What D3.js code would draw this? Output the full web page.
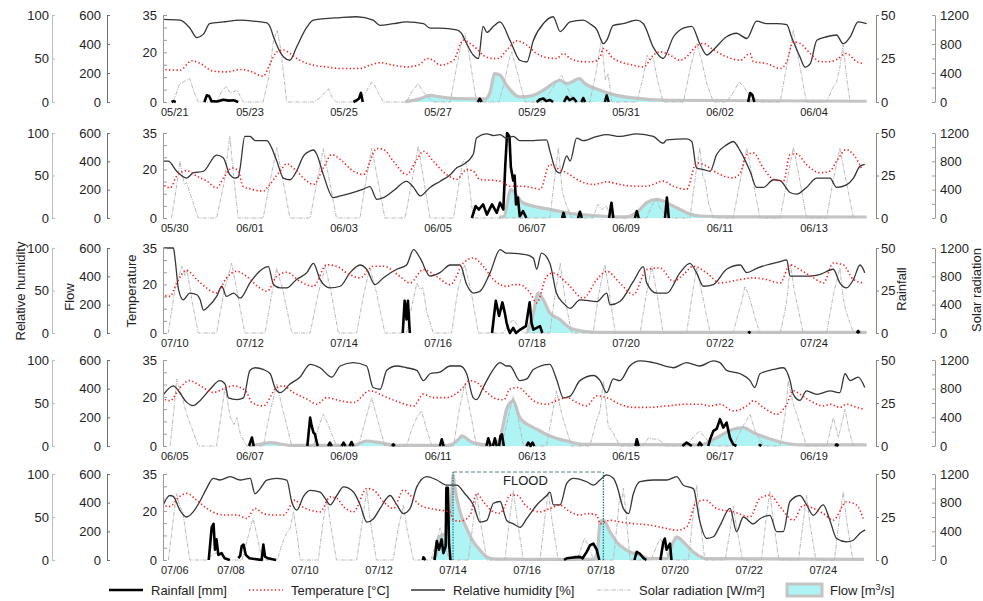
<!DOCTYPE html>
<html><head><meta charset="utf-8">
<script src="https://cdn.jsdelivr.net/npm/d3@7"></script>
<style>body{margin:0;background:#fff;} svg{display:block;}</style>
</head><body><svg id="chart" width="983" height="601"></svg>
<script>
// ---------- DATA (t = days since first date label of each panel) ----------
const dates1=["05/21","05/23","05/25","05/27","05/29","05/31","06/02","06/04"];
const dates2=["05/30","06/01","06/03","06/05","06/07","06/09","06/11","06/13"];
const dates3=["07/10","07/12","07/14","07/16","07/18","07/20","07/22","07/24"];
const dates4=["06/05","06/07","06/09","06/11","06/13","06/15","06/17","06/19"];
const dates5=["07/06","07/08","07/10","07/12","07/14","07/16","07/18","07/20","07/22","07/24"];

const hum1=[[0.16,95],[0.51,94],[0.72,85],[0.87,74],[1.01,78],[1.14,90],[1.43,92],[1.79,94],[2.07,93],[2.36,91],[2.43,86],[2.50,75],[2.71,52],[2.85,48],[2.99,63],[3.21,86],[3.35,94],[3.92,97],[4.27,98],[4.62,94],[4.77,88],[5.05,90],[5.33,92],[5.69,90],[5.83,85],[6.04,85],[6.40,83],[6.50,79],[6.61,67],[6.75,54],[6.86,50],[6.96,87],[7.04,80],[7.18,87],[7.32,92],[7.53,71],[7.74,48],[7.89,46],[8.03,71],[8.24,90],[8.45,98],[8.60,81],[8.81,92],[9.09,94],[9.23,90],[9.38,83],[9.52,67],[9.59,71],[9.73,88],[9.94,90],[10.23,94],[10.37,90],[10.58,63],[10.79,50],[11.01,75],[11.22,85],[11.40,87],[11.57,67],[11.72,54],[11.86,60],[12.14,75],[12.35,79],[12.57,73],[12.78,93],[12.99,90],[13.21,90],[13.42,89],[13.52,75],[13.70,52],[13.81,40],[13.92,44],[14.06,71],[14.27,75],[14.48,77],[14.62,67],[14.77,75],[14.94,92],[15.12,90]];
const temp1=[[0.12,13.1],[0.51,12.8],[0.76,16.6],[0.94,15.5],[1.22,12.4],[1.50,12.1],[1.79,13.1],[2.00,12.4],[2.28,10.4],[2.43,15.5],[2.57,20.2],[2.71,20.9],[2.85,19.5],[3.06,16.8],[3.35,14.8],[3.63,14.1],[3.92,13.5],[4.34,13.5],[4.55,14.8],[4.77,15.8],[5.05,14.8],[5.33,14.1],[5.62,15.2],[5.76,17.5],[5.90,16.8],[6.04,14.8],[6.33,16.8],[6.54,24.9],[6.68,23.6],[6.82,21.5],[6.96,18.8],[7.18,17.5],[7.30,17.5],[7.42,20],[7.53,22.2],[7.67,24.6],[7.89,22.9],[8.10,19.5],[8.31,17.9],[8.52,17.5],[8.67,19.5],[8.81,17.5],[9.09,16.2],[9.31,16.2],[9.45,18.2],[9.52,21.5],[9.73,17.5],[9.87,16.2],[10.16,14.8],[10.37,14.1],[10.58,18.8],[10.72,20.2],[10.94,18.8],[11.15,16.8],[11.29,18.2],[11.50,22.5],[11.64,23.6],[11.86,21.0],[12.14,18.2],[12.43,16.8],[12.64,19.5],[12.71,16.2],[12.99,15.5],[13.28,13.5],[13.42,16.2],[13.56,24.2],[13.70,23.6],[13.92,19.5],[14.13,16.2],[14.34,16.2],[14.48,17.1],[14.69,19.5],[14.91,16.2],[15.05,15.5]];
const solar1=[[0.37,0],[0.50,250],[0.62,290],[0.72,323],[0.80,150],[0.90,0],[1.29,0],[1.40,150],[1.50,217],[1.58,120],[1.72,162],[1.86,0],[2.28,0],[2.40,350],[2.50,850],[2.58,992],[2.66,700],[2.78,0],[3.35,0],[3.50,60],[3.62,150],[3.67,185],[3.75,60],[3.84,0],[4.27,0],[4.45,120],[4.59,277],[4.66,220],[4.75,100],[4.84,0],[5.33,0],[5.45,150],[5.58,254],[5.66,160],[5.75,90],[5.90,0],[6.26,0],[6.40,500],[6.52,880],[6.57,946],[6.65,700],[6.82,0],[7.30,0],[7.42,300],[7.52,600],[7.57,692],[7.65,500],[7.85,0],[8.24,0],[8.40,150],[8.55,300],[8.63,369],[8.75,200],[8.90,0],[9.23,0],[9.36,400],[9.48,877],[9.56,300],[9.62,390],[9.70,0],[10.23,0],[10.35,300],[10.45,646],[10.50,580],[10.58,620],[10.67,300],[10.79,0],[11.22,0],[11.38,500],[11.50,808],[11.60,600],[11.72,250],[11.86,0],[12.14,0],[12.30,150],[12.40,277],[12.50,220],[12.62,100],[12.85,0],[13.28,0],[13.42,500],[13.56,992],[13.64,700],[13.84,0],[14.27,0],[14.40,200],[14.48,270],[14.55,480],[14.62,785],[14.70,300],[14.77,0]];
const rain1=[[[0.33,0],[0.37,0.5],[0.42,0]],[[1.03,0],[1.08,3.8],[1.13,3.5],[1.18,0.5],[1.30,0.3],[1.43,1.3],[1.55,0.8],[1.65,1],[1.75,0]],[[4.20,0],[4.27,1],[4.32,2],[4.36,5.2],[4.40,0]],[[6.85,0],[6.89,2],[6.93,0]],[[8.10,0],[8.17,1.5],[8.24,2],[8.30,0.5],[8.38,1.2],[8.45,0]],[[8.68,0],[8.74,3],[8.80,1],[8.88,2.3],[8.95,0]],[[9.05,0],[9.09,2.3],[9.13,0]],[[9.55,0],[9.59,3.8],[9.63,0]],[[12.60,0],[12.64,5.2],[12.69,4],[12.73,0]]];
const flow1=[[5.30,3],[5.60,20],[5.83,46],[6.04,35],[6.40,23],[7.00,20],[7.10,60],[7.21,196],[7.32,185],[7.46,115],[7.74,35],[8.03,46],[8.24,81],[8.60,150],[8.74,127],[9.02,162],[9.09,138],[9.45,81],[9.80,46],[10.16,28],[10.87,12],[15.12,5]];

const hum2=[[0.16,67],[0.26,67],[0.44,55],[0.65,47],[0.79,53],[1.01,55],[1.29,74],[1.43,71],[1.57,51],[1.68,47],[1.75,48],[1.79,59],[1.89,96],[2.0,96],[2.11,91],[2.36,91],[2.43,86],[2.57,67],[2.71,47],[2.85,45],[2.99,55],[3.14,73],[3.28,79],[3.35,80],[3.42,75],[3.56,51],[3.77,24],[3.92,26],[4.13,29],[4.41,34],[4.55,37],[4.70,22],[4.84,24],[5.05,32],[5.33,43],[5.48,36],[5.62,26],[5.83,36],[6.04,43],[6.26,51],[6.40,59],[6.54,63],[6.75,75],[6.82,94],[7.04,99],[7.18,97],[7.32,98],[7.46,94],[7.60,96],[7.74,91],[8.03,91],[8.31,92],[8.38,79],[8.52,55],[8.60,53],[8.74,73],[8.81,67],[8.95,94],[9.09,91],[9.38,96],[9.59,98],[9.87,96],[10.23,99],[10.58,96],[10.79,88],[10.87,92],[11.29,93],[11.40,90],[11.50,59],[11.65,57],[11.79,55],[11.93,75],[12.14,86],[12.28,90],[12.43,79],[12.64,55],[12.78,36],[12.92,36],[13.14,45],[13.28,44],[13.49,30],[13.63,28],[13.84,36],[14.06,47],[14.34,47],[14.48,36],[14.69,39],[14.84,47],[14.98,61],[15.08,63]];
const temp2=[[0.12,14.5],[0.30,12.4],[0.44,17.2],[0.65,19.5],[0.87,17.2],[1.08,15.2],[1.29,12.4],[1.45,17],[1.62,20.6],[1.75,19.5],[1.85,13.1],[2.0,12.0],[2.29,11.1],[2.36,12.4],[2.64,19.3],[2.78,22.3],[2.99,19.3],[3.21,15.2],[3.35,13.8],[3.56,20.6],[3.74,26.1],[3.92,24.1],[4.20,19.3],[4.41,17.9],[4.70,28.6],[4.84,28.2],[5.05,23.4],[5.33,17.9],[5.55,24.1],[5.69,27.5],[5.90,23.4],[6.18,17.9],[6.40,15.9],[6.61,20.0],[6.75,19.3],[6.89,15.9],[7.32,15.2],[7.53,13.1],[7.74,13.1],[8.03,12.4],[8.17,11.8],[8.38,22.0],[8.52,20.6],[8.74,18.6],[9.02,15.2],[9.31,13.8],[9.59,14.9],[9.87,13.8],[10.16,13.1],[10.44,13.1],[10.79,15.2],[11.01,13.1],[11.29,11.8],[11.50,22.7],[11.72,21.3],[11.93,18.6],[12.28,16.5],[12.43,18.6],[12.57,26.1],[12.71,26.8],[12.92,20.6],[13.14,15.9],[13.35,15.2],[13.49,26.1],[13.63,26.4],[13.84,22.0],[14.13,18.6],[14.34,19.3],[14.48,23.4],[14.69,28.2],[14.84,26.1],[15.01,20.6]];
const solar2=[[0.33,0],[0.45,500],[0.51,802],[0.60,474],[0.65,500],[0.75,300],[0.90,0],[1.29,0],[1.45,500],[1.57,1154],[1.65,600],[1.75,0],[2.28,0],[2.42,500],[2.57,990],[2.68,600],[2.85,0],[3.28,0],[3.42,500],[3.56,980],[3.67,600],[3.84,0],[4.34,0],[4.46,500],[4.59,990],[4.70,600],[4.87,0],[5.30,0],[5.44,500],[5.58,1013],[5.68,600],[5.83,0],[6.33,0],[6.45,500],[6.52,780],[6.57,825],[6.62,700],[6.75,0],[8.38,0],[8.47,500],[8.56,990],[8.64,400],[8.70,240],[8.78,100],[8.84,0],[9.30,0],[9.40,192],[9.48,120],[9.58,170],[9.66,60],[9.77,0],[10.44,0],[10.55,180],[10.65,263],[10.72,150],[10.87,0],[11.36,0],[11.48,600],[11.57,990],[11.64,560],[11.68,540],[11.76,200],[11.86,0],[12.28,0],[12.42,500],[12.57,990],[12.68,600],[12.85,0],[13.28,0],[13.42,500],[13.56,1000],[13.68,600],[13.84,0],[14.27,0],[14.40,500],[14.55,990],[14.66,600],[14.84,0]];
const rain2=[[[6.72,0],[6.80,7],[6.87,5],[6.96,8],[7.04,2],[7.15,8],[7.25,3],[7.32,9],[7.39,5],[7.43,30],[7.47,50],[7.52,48],[7.55,30],[7.60,22],[7.63,25],[7.66,8],[7.70,12],[7.74,1],[7.81,4],[7.88,0]],[[8.64,0],[8.67,3],[8.70,0]],[[8.98,0],[9.02,3.7],[9.06,0]],[[9.64,0],[9.69,9],[9.73,0]],[[10.19,0],[10.23,4],[10.27,0]],[[10.83,0],[10.87,12],[10.91,0]]];
const flow2=[[7.30,5],[7.40,10],[7.55,200],[7.80,108],[8.03,84],[8.38,61],[8.74,37],[9.45,14],[10.0,8],[10.23,40],[10.45,110],[10.65,131],[11.01,84],[11.29,37],[11.57,14],[12.28,8],[15.12,7]];

const hum3=[[0.16,100],[0.37,100],[0.40,90],[0.48,51],[0.58,39],[0.72,47],[0.87,45],[0.94,39],[1.01,27],[1.11,31],[1.29,43],[1.40,55],[1.50,43],[1.65,47],[1.79,41],[2.0,59],[2.21,73],[2.39,78],[2.50,57],[2.64,53],[2.78,53],[2.99,63],[3.21,71],[3.35,82],[3.49,63],[3.70,53],[3.92,55],[4.13,71],[4.34,80],[4.48,75],[4.66,57],[4.84,65],[5.12,75],[5.33,80],[5.48,98],[5.62,88],[5.83,67],[6.04,71],[6.26,80],[6.47,80],[6.61,57],[6.75,47],[6.89,49],[7.11,71],[7.32,98],[7.46,94],[7.53,94],[7.89,92],[8.03,88],[8.10,75],[8.20,94],[8.38,82],[8.52,47],[8.67,35],[8.81,29],[9.02,39],[9.38,37],[9.59,47],[9.66,33],[9.87,37],[10.16,61],[10.37,78],[10.44,59],[10.65,47],[10.87,47],[11.15,71],[11.36,82],[11.50,71],[11.65,55],[11.86,57],[12.14,75],[12.43,80],[12.57,71],[12.78,76],[12.99,80],[13.28,84],[13.42,86],[13.49,67],[13.70,67],[13.92,67],[14.13,69],[14.41,75],[14.55,59],[14.69,53],[14.84,63],[14.98,80],[15.08,71]];
const temp3=[[0.12,15.8],[0.30,15.1],[0.44,20.6],[0.65,25.8],[0.87,22.0],[1.08,18.5],[1.29,16.5],[1.50,22.7],[1.72,25.4],[1.93,23.3],[2.21,18.5],[2.36,17.2],[2.57,23.3],[2.78,25.0],[3.06,21.3],[3.35,19.2],[3.63,28.1],[3.84,27.5],[4.06,24.7],[4.34,22.7],[4.62,27.5],[4.84,27.5],[5.19,23.3],[5.40,20.6],[5.69,26.1],[5.97,23.3],[6.26,19.9],[6.54,28.8],[6.75,30.9],[6.96,27.5],[7.18,22.0],[7.46,19.2],[7.60,19.9],[7.74,19.9],[7.96,16.5],[8.10,12.4],[8.31,23.3],[8.45,24.7],[8.74,20.6],[9.09,14.4],[9.38,22.0],[9.59,25.4],[9.87,20.6],[10.16,15.8],[10.44,26.1],[10.72,26.8],[11.01,21.3],[11.22,24.0],[11.43,27.5],[11.72,24.7],[12.0,20.6],[12.43,22.0],[12.71,22.7],[12.99,22.0],[13.28,20.6],[13.49,28.1],[13.70,26.1],[13.99,22.7],[14.2,20.6],[14.41,28.8],[14.62,28.1],[14.84,22.0],[15.05,20.6]];
const solar3=[[0.26,0],[0.40,600],[0.55,941],[0.62,800],[0.66,894],[0.78,400],[0.90,0],[1.29,0],[1.45,600],[1.61,988],[1.72,600],[1.89,0],[2.32,0],[2.45,500],[2.57,918],[2.70,600],[2.89,0],[3.28,0],[3.45,550],[3.60,941],[3.72,600],[3.88,0],[4.27,0],[4.42,550],[4.55,918],[4.68,600],[4.87,0],[5.33,0],[5.45,400],[5.55,706],[5.62,612],[5.68,640],[5.76,300],[5.90,0],[6.29,0],[6.42,600],[6.57,965],[6.70,600],[6.86,0],[7.39,0],[7.50,120],[7.60,190],[7.70,100],[7.82,0],[8.38,0],[8.48,500],[8.60,988],[8.70,500],[8.84,0],[9.30,0],[9.42,550],[9.55,965],[9.65,550],[9.77,0],[10.30,0],[10.42,500],[10.55,941],[10.66,550],[10.79,0],[11.29,0],[11.40,500],[11.50,918],[11.62,550],[11.79,0],[12.28,0],[12.40,300],[12.47,470],[12.53,659],[12.59,565],[12.65,450],[12.75,200],[12.85,0],[13.28,0],[13.38,300],[13.42,470],[13.50,965],[13.58,600],[13.77,0],[14.27,0],[14.40,500],[14.55,918],[14.62,500],[14.67,330],[14.76,150],[14.84,0]];
const rain3=[[[5.25,0],[5.29,19],[5.33,8],[5.36,19],[5.40,0]],[[7.15,0],[7.23,19],[7.30,10],[7.37,18],[7.42,12],[7.46,6],[7.50,2],[7.53,0],[7.60,3],[7.66,0],[7.75,2],[7.87,4],[7.95,18],[7.99,6],[8.03,2],[8.17,4],[8.22,0]],[[12.60,0],[12.62,0.5],[12.65,0]],[[14.91,0],[14.94,1.2],[14.97,0]]];
const flow3=[[7.90,5],[8.03,141],[8.13,282],[8.24,235],[8.38,141],[8.60,94],[8.81,35],[9.09,12],[9.45,5],[15.12,5]];

const hum4=[[0.16,60],[0.37,70],[0.48,64],[0.65,51],[0.79,47],[0.94,53],[1.15,66],[1.36,76],[1.47,72],[1.54,56],[1.72,54],[1.86,56],[2.0,88],[2.11,91],[2.28,89],[2.43,84],[2.53,68],[2.64,62],[2.85,72],[3.06,80],[3.28,95],[3.49,91],[3.74,80],[3.92,93],[4.20,97],[4.48,93],[4.62,68],[4.77,66],[4.91,88],[5.12,93],[5.33,91],[5.55,88],[5.69,76],[5.83,84],[6.04,86],[6.26,93],[6.47,93],[6.61,84],[6.75,56],[6.82,54],[6.96,68],[7.14,86],[7.32,97],[7.46,93],[7.53,93],[7.74,76],[7.89,78],[8.03,89],[8.38,95],[8.52,78],[8.67,56],[8.81,58],[9.02,76],[9.31,82],[9.45,76],[9.59,62],[9.73,78],[9.87,76],[10.08,93],[10.30,99],[10.58,97],[11.01,91],[11.29,97],[11.57,93],[11.86,99],[12.0,97],[12.14,88],[12.43,84],[12.64,76],[12.74,68],[12.85,84],[13.14,89],[13.35,91],[13.49,76],[13.56,60],[13.70,53],[13.84,64],[14.06,60],[14.34,64],[14.55,62],[14.66,84],[14.77,76],[14.94,80],[15.08,68]];
const temp4=[[0.12,19.7],[0.30,18.4],[0.51,23.8],[0.72,26.6],[0.94,24.5],[1.22,21.8],[1.43,23.2],[1.65,24.5],[1.79,23.8],[1.93,21.8],[2.04,17.7],[2.28,16.3],[2.57,23.8],[2.71,24.5],[2.92,21.8],[3.21,19.1],[3.42,17.0],[3.63,19.7],[3.92,18.4],[4.20,17.7],[4.55,22.5],[4.84,20.4],[5.19,17.7],[5.48,16.3],[5.69,21.1],[5.90,19.7],[6.18,19.7],[6.47,22.5],[6.68,26.6],[6.82,25.9],[7.04,21.8],[7.25,19.1],[7.40,18.8],[7.53,23.2],[7.71,23.8],[7.89,21.1],[8.03,18.4],[8.31,17.0],[8.52,18.4],[8.74,19.7],[8.95,17.7],[9.16,16.3],[9.38,20.4],[9.59,19.7],[9.87,17.0],[10.16,15.7],[10.44,15.7],[10.87,16.3],[11.29,17.0],[11.57,17.0],[11.79,16.3],[12.0,17.0],[12.28,14.3],[12.57,16.3],[12.71,18.4],[12.92,15.7],[13.21,12.9],[13.42,17.0],[13.56,22.5],[13.70,21.1],[13.92,18.4],[14.20,16.3],[14.34,17.0],[14.55,15.7],[14.69,17.0],[14.91,15.7],[15.05,15.0]];
const solar4=[[0.30,0],[0.38,500],[0.44,934],[0.55,700],[0.65,450],[0.90,0],[1.29,0],[1.40,500],[1.47,817],[1.58,400],[1.66,300],[1.72,397],[1.80,150],[1.93,0],[2.28,0],[2.42,450],[2.57,864],[2.70,500],[2.89,0],[3.35,0],[3.45,250],[3.56,444],[3.66,300],[3.84,0],[4.31,0],[4.45,350],[4.59,677],[4.70,400],[4.87,0],[5.33,0],[5.45,250],[5.55,397],[5.65,490],[5.75,250],[5.87,0],[6.33,0],[6.45,500],[6.57,864],[6.68,500],[6.82,0],[7.35,0],[7.46,300],[7.60,700],[7.70,400],[7.82,0],[8.31,0],[8.42,400],[8.52,771],[8.65,400],[8.84,0],[9.23,0],[9.38,370],[9.45,500],[9.52,911],[9.62,280],[9.73,180],[9.87,0],[10.37,0],[10.48,117],[10.55,100],[10.68,95],[10.87,0],[11.29,0],[11.45,140],[11.57,210],[11.70,100],[11.86,0],[12.28,0],[12.45,230],[12.64,444],[12.75,200],[12.92,0],[13.28,0],[13.40,500],[13.45,911],[13.56,584],[13.70,300],[13.84,0],[14.27,0],[14.41,397],[14.52,120],[14.66,514],[14.75,200],[14.84,0]];
const rain4=[[[1.98,0],[2.04,4.9],[2.08,0]],[[3.22,0],[3.28,16.5],[3.31,12],[3.35,7.8],[3.38,7],[3.44,0]],[[3.66,0],[3.70,2],[3.74,0]],[[3.95,0],[3.99,2],[4.03,0]],[[4.12,0],[4.16,2.3],[4.20,0]],[[5.02,0],[5.05,1],[5.08,0]],[[6.04,0],[6.08,3.9],[6.12,0]],[[7.03,0],[7.07,4.5],[7.12,0]],[[7.17,0],[7.21,4.5],[7.25,0]],[[7.30,0],[7.33,5.8],[7.36,6.8],[7.40,0]],[[7.88,0],[7.92,2],[7.97,0],[8.01,2],[8.05,0]],[[10.20,0],[10.23,3.9],[10.27,0]],[[11.20,0],[11.29,2],[11.40,0]],[[11.53,0],[11.57,2],[11.62,0]],[[11.75,0],[11.79,3.9],[11.86,8.8],[11.93,10],[12.0,15.6],[12.07,10.7],[12.14,13.6],[12.21,4.9],[12.28,1],[12.35,0]],[[12.83,0],[12.85,0.6],[12.88,0]],[[14.45,0],[14.48,1],[14.52,0]]];
const flow4=[[2.0,3],[2.21,12],[2.43,23],[2.85,5],[4.2,5],[4.48,35],[4.77,23],[5.1,5],[6.2,5],[6.47,58],[6.50,70],[6.75,23],[7.11,8],[7.30,40],[7.39,152],[7.46,257],[7.60,315],[7.74,198],[7.96,140],[8.10,117],[8.38,70],[8.74,35],[9.09,12],[11.57,8],[11.93,58],[12.28,117],[12.50,128],[12.71,93],[12.99,58],[13.35,23],[13.70,8],[15.12,8]];

const hum5=[[0.17,64],[0.35,75],[0.44,74],[0.62,58],[0.80,50],[0.98,56],[1.16,68],[1.34,83],[1.52,95],[1.70,93],[1.98,97],[2.25,93],[2.52,95],[2.65,77],[2.79,83],[2.97,93],[3.24,95],[3.51,93],[3.64,68],[3.78,58],[3.96,74],[4.14,81],[4.41,79],[4.54,72],[4.68,64],[4.86,75],[5.04,85],[5.31,79],[5.49,64],[5.67,44],[5.85,48],[6.03,60],[6.30,75],[6.48,64],[6.66,54],[6.84,60],[7.02,85],[7.29,97],[7.56,93],[7.83,87],[8.10,87],[8.32,77],[8.55,64],[8.73,44],[8.91,46],[9.09,66],[9.27,68],[9.45,46],[9.63,42],[9.81,38],[9.99,48],[10.26,64],[10.53,75],[10.62,79],[10.71,64],[10.89,64],[11.07,89],[11.25,95],[11.61,91],[11.79,87],[11.97,93],[12.15,99],[12.33,95],[12.42,87],[12.60,60],[12.74,54],[12.87,77],[13.05,91],[13.41,93],[13.77,93],[14.04,97],[14.22,87],[14.49,83],[14.67,44],[14.85,25],[15.03,27],[15.21,40],[15.48,60],[15.66,33],[15.84,50],[16.11,42],[16.29,48],[16.56,52],[16.74,33],[16.92,33],[17.10,68],[17.37,75],[17.55,64],[17.73,52],[18.00,64],[18.18,46],[18.36,25],[18.63,21],[18.81,23],[18.99,31],[19.13,35]];
const temp5=[[0.13,22.3],[0.35,21.8],[0.62,25.9],[0.80,27.1],[1.07,24.4],[1.34,21.1],[1.61,18.9],[1.88,18.3],[2.16,18.3],[2.43,16.9],[2.65,21.0],[2.88,18.9],[3.15,18.3],[3.42,18.3],[3.73,24.4],[3.87,22.3],[4.14,20.3],[4.41,19.6],[4.68,25.7],[4.86,25.1],[5.04,21.7],[5.31,19.6],[5.67,29.1],[5.85,28.5],[6.12,23.7],[6.39,21.0],[6.66,28.5],[6.84,26.4],[7.11,22.3],[7.38,21.0],[7.65,20.3],[7.92,19.6],[8.01,16.2],[8.19,15.8],[8.46,18.3],[8.64,27.1],[8.82,23.7],[9.09,19.6],[9.27,19.0],[9.40,22.0],[9.54,26.4],[9.72,26.4],[9.99,21.7],[10.35,19.6],[10.62,21.0],[10.89,22.3],[11.16,19.6],[11.43,18.3],[11.61,18.9],[11.88,18.3],[11.97,14.8],[12.24,16.2],[12.51,15.5],[12.87,14.8],[13.32,14.2],[13.77,12.8],[14.04,12.1],[14.31,13.5],[14.58,23.7],[14.81,24.4],[15.12,21.0],[15.57,19.6],[16.02,17.6],[16.29,25.1],[16.56,26.4],[16.83,21.7],[17.19,16.2],[17.46,22.3],[17.73,21.0],[18.00,18.9],[18.27,16.2],[18.63,23.7],[18.90,22.3],[19.08,16.9]];
const solar5=[[0.31,0],[0.45,600],[0.53,929],[0.62,750],[0.70,672],[0.80,300],[0.89,0],[1.35,0],[1.50,80],[1.60,100],[1.75,60],[1.90,0],[2.30,0],[2.45,300],[2.55,500],[2.60,579],[2.70,350],[2.84,0],[3.25,0],[3.40,250],[3.50,369],[3.60,450],[3.69,672],[3.80,300],[3.87,0],[4.36,0],[4.48,500],[4.59,859],[4.66,600],[4.85,0],[5.40,0],[5.55,550],[5.67,976],[5.75,600],[5.93,0],[6.38,0],[6.52,450],[6.66,766],[6.75,450],[6.93,0],[7.40,0],[7.55,250],[7.65,450],[7.75,250],[7.90,0],[8.41,0],[8.55,550],[8.64,929],[8.72,600],[8.91,0],[9.40,0],[9.52,550],[9.63,976],[9.72,600],[9.90,0],[10.35,0],[10.47,550],[10.57,953],[10.66,600],[10.84,0],[11.35,0],[11.48,200],[11.55,300],[11.65,200],[11.80,0],[12.33,0],[12.45,600],[12.50,900],[12.55,800],[12.60,1000],[12.68,600],[12.78,0],[13.35,0],[13.50,200],[13.60,300],[13.70,200],[13.85,0],[14.36,0],[14.48,600],[14.58,1046],[14.66,600],[14.80,0],[15.35,0],[15.48,400],[15.57,750],[15.66,450],[15.82,0],[16.33,0],[16.45,550],[16.56,953],[16.65,550],[16.80,0],[17.33,0],[17.45,500],[17.55,900],[17.64,500],[17.80,0],[18.30,0],[18.43,550],[18.54,953],[18.63,550],[18.80,0]];
const rain5=[[[1.40,0],[1.48,19],[1.53,21],[1.57,6],[1.61,12],[1.66,3],[1.75,4],[1.83,1],[1.97,0]],[[2.20,1],[2.25,2.5],[2.29,8],[2.34,9],[2.40,3],[2.50,1],[2.83,0],[2.875,9],[2.92,2],[3.0,1],[3.22,0]],[[7.18,0],[7.20,1.6],[7.25,0]],[[7.50,0],[7.56,11],[7.62,6],[7.69,12],[7.74,4],[7.80,8],[7.82,42],[7.86,42],[7.89,10],[7.93,0]],[[11.0,0],[11.07,1],[11.25,1.5],[11.43,1.8],[11.50,1],[11.61,4.7],[11.70,8.6],[11.79,9.5],[11.88,6],[11.95,0]],[[12.90,0],[12.96,4.7],[13.05,3.5],[13.15,1],[13.22,0]],[[13.60,0],[13.68,10.5],[13.72,12.5],[13.77,6],[13.86,9.5],[13.90,0]]];
const flow5=[[7.45,5],[7.55,40],[7.60,150],[7.70,173],[7.78,180],[7.95,400],[8.00,593],[8.05,500],[8.19,336],[8.37,219],[8.55,126],[8.73,68],[8.91,21],[9.09,8],[10.0,5],[11.8,5],[11.90,60],[11.97,266],[12.06,278],[12.24,196],[12.42,126],[12.69,68],[13.05,33],[13.32,9],[13.77,9],[13.95,126],[14.04,161],[14.22,126],[14.49,56],[14.85,9],[19.1,5]];

const floodRange=[8.0,12.06];   // panel 5, days since 07/06
const floodLabel="FLOOD";

const humTicks=[0,50,100], flowTicks=[0,200,400,600], tempTicks=[0,5,10,15,20,25,30,35], tempLabeled=[0,20,35];
const rainTicks=[0,25,50], solarTicks=[0,200,400,600,800,1000,1200], solarLabeled=[0,400,800,1200];

// ---------- LAYOUT ----------
const FONT='"Liberation Sans", Arial, Helvetica, sans-serif';
const svg=d3.select("#chart").style("font-family",FONT);
const panelTop=[15,133,248,360,474], panelBottom=[102,218,333,446,560];
const plotLeft=163, plotRight=876;
const axX={hum:52, flow:107, temp:163, rain:876, solar:935};
const panels=[
 {dates:dates1,hum:hum1,temp:temp1,solar:solar1,rain:rain1,flow:flow1,x0:156,dw:47},
 {dates:dates2,hum:hum2,temp:temp2,solar:solar2,rain:rain2,flow:flow2,x0:156,dw:47},
 {dates:dates3,hum:hum3,temp:temp3,solar:solar3,rain:rain3,flow:flow3,x0:156,dw:47},
 {dates:dates4,hum:hum4,temp:temp4,solar:solar4,rain:rain4,flow:flow4,x0:156,dw:47},
 {dates:dates5,hum:hum5,temp:temp5,solar:solar5,rain:rain5,flow:flow5,x0:156.9,dw:37.02}
];
const C={hum:"#353535",temp:"#ff1a1a",solar:"#b9b9b9",rain:"#000",flowFill:"#aef4f4",flowStroke:"#c4c4c4"};
const SOLAR_DASH="4,1.2,1,1.2";

function styleAxis(g,color,labelColor){
  g.select(".domain").attr("stroke",color).attr("stroke-width",1);
  g.selectAll(".tick line").attr("stroke",color);
  g.selectAll(".tick text").attr("fill",labelColor||"#222").style("font-size","13px").style("font-family",FONT);
}

panels.forEach((p,i)=>{
  const top=panelTop[i], bot=panelBottom[i];
  const x=d3.scaleLinear().domain([0,1]).range([p.x0,p.x0+p.dw]);
  const yT=d3.scaleLinear().domain([0,35]).range([bot,top]);
  const yH=d3.scaleLinear().domain([0,100]).range([bot,top]);
  const yF=d3.scaleLinear().domain([0,600]).range([bot,top]);
  const yR=d3.scaleLinear().domain([0,50]).range([bot,top]);
  const yS=d3.scaleLinear().domain([0,1200]).range([bot,top]);

  const cid="clip"+i;
  svg.append("clipPath").attr("id",cid).append("rect")
    .attr("x",plotLeft).attr("y",top-2).attr("width",plotRight-plotLeft-1).attr("height",bot-top+4);
  const pg=svg.append("g").attr("clip-path",`url(#${cid})`);

  pg.append("path").datum(p.flow)
    .attr("d",d3.area().x(d=>x(d[0])).y0(yF(0)).y1(d=>yF(d[1])).curve(d3.curveMonotoneX))
    .attr("fill",C.flowFill);
  pg.append("path").datum(p.flow)
    .attr("d",d3.line().x(d=>x(d[0])).y(d=>yF(d[1])).curve(d3.curveMonotoneX))
    .attr("fill","none").attr("stroke",C.flowStroke).attr("stroke-width",3.2).attr("stroke-linejoin","round");
  pg.append("path").datum(p.solar)
    .attr("d",d3.line().x(d=>x(d[0])).y(d=>yS(d[1])))
    .attr("fill","none").attr("stroke",C.solar).attr("stroke-width",1).attr("stroke-dasharray",SOLAR_DASH);
  p.rain.forEach(ev=>{
    pg.append("path").datum(ev)
      .attr("d",d3.line().x(d=>x(d[0])).y(d=>yR(d[1])))
      .attr("fill","none").attr("stroke",C.rain).attr("stroke-width",2.6).attr("stroke-linejoin","round");
  });
  pg.append("path").datum(p.hum)
    .attr("d",d3.line().x(d=>x(d[0])).y(d=>yH(d[1])).curve(d3.curveMonotoneX))
    .attr("fill","none").attr("stroke",C.hum).attr("stroke-width",1.3);
  pg.append("path").datum(p.temp)
    .attr("d",d3.line().x(d=>x(d[0])).y(d=>yT(d[1])).curve(d3.curveMonotoneX))
    .attr("fill","none").attr("stroke",C.temp).attr("stroke-width",1.6).attr("stroke-dasharray","1.3,2.4");

  const aH=svg.append("g").attr("transform",`translate(${axX.hum},0)`)
    .call(d3.axisLeft(yH).tickValues(humTicks).tickSizeInner(-3).tickSizeOuter(0).tickPadding(3));
  styleAxis(aH,"#bdbdbd");
  const aF=svg.append("g").attr("transform",`translate(${axX.flow},0)`)
    .call(d3.axisLeft(yF).tickValues(flowTicks).tickSizeInner(-3).tickSizeOuter(0).tickPadding(6));
  styleAxis(aF,"#6e6e6e");
  const aT=svg.append("g").attr("transform",`translate(${axX.temp},0)`)
    .call(d3.axisLeft(yT).tickValues(tempTicks).tickSizeInner(-4).tickSizeOuter(0).tickPadding(6)
      .tickFormat(d=>tempLabeled.includes(d)?d:""));
  styleAxis(aT,"#9a9a9a");
  const aR=svg.append("g").attr("transform",`translate(${axX.rain},0)`)
    .call(d3.axisRight(yR).tickValues(rainTicks).tickSizeInner(3).tickSizeOuter(0).tickPadding(2));
  styleAxis(aR,"#7d8796");
  const aS=svg.append("g").attr("transform",`translate(${axX.solar},0)`)
    .call(d3.axisRight(yS).tickValues(solarTicks).tickSizeInner(-3).tickSizeOuter(0).tickPadding(5)
      .tickFormat(d=>solarLabeled.includes(d)?d:""));
  styleAxis(aS,"#9a9a9a");

  p.dates.forEach((lab,k)=>{
    const t=svg.append("text").text(lab).attr("y",bot+14).style("font-size","11px").attr("fill","#222");
    if(k===0) t.attr("x",plotLeft-2).attr("text-anchor","start");
    else t.attr("x",x(2*k)).attr("text-anchor","middle");
  });

  if(i===4){
    const fx0=x(floodRange[0]), fx1=x(floodRange[1]);
    svg.append("line").attr("x1",fx0).attr("x2",fx1).attr("y1",top-2).attr("y2",top-2)
      .attr("stroke","#5d7f86").attr("stroke-width",1).attr("stroke-dasharray","4,2");
    [fx0,fx1].forEach(fx=>svg.append("line").attr("x1",fx).attr("x2",fx).attr("y1",top-2).attr("y2",bot)
      .attr("stroke","#1f7f86").attr("stroke-width",1.3).attr("stroke-dasharray","1.5,1.2"));
    svg.append("text").text(floodLabel).attr("x",fx0+50).attr("y",top+11).style("font-size","13px").attr("fill","#222");
  }
});

const titles=[["Relative humidity",22,291],["Flow",71,297],["Temperature",133,291],["Rainfall",903,289],["Solar radiation",978,290]];
titles.forEach(([s,xx,yy])=>{
  svg.append("text").text(s).attr("transform",`translate(${xx},${yy}) rotate(-90)`)
    .attr("text-anchor","middle").attr("dominant-baseline","middle").style("font-size","13px").attr("fill","#222");
});

const legY=590;
const legend=[
 {type:"rain",label:"Rainfall [mm]",x:109},
 {type:"temp",label:"Temperature [°C]",x:249},
 {type:"hum",label:"Relative humidity [%]",x:411},
 {type:"solar",label:"Solar radiation [W/m²]",x:597},
 {type:"flow",label:"Flow [m",x:787}
];
legend.forEach(it=>{
  const sw=34;
  if(it.type==="flow"){
    svg.append("rect").attr("x",it.x).attr("y",legY-6).attr("width",35).attr("height",12)
      .attr("fill",C.flowFill).attr("stroke",C.flowStroke).attr("stroke-width",3);
  } else {
    const l=svg.append("line").attr("x1",it.x).attr("x2",it.x+sw).attr("y1",legY).attr("y2",legY).attr("fill","none");
    if(it.type==="rain") l.attr("stroke",C.rain).attr("stroke-width",2.6);
    if(it.type==="temp") l.attr("stroke",C.temp).attr("stroke-width",1.6).attr("stroke-dasharray","1.3,2.4");
    if(it.type==="hum") l.attr("stroke",C.hum).attr("stroke-width",1.3);
    if(it.type==="solar") l.attr("stroke",C.solar).attr("stroke-width",1).attr("stroke-dasharray",SOLAR_DASH);
  }
  const tx=svg.append("text").attr("x",it.x+(it.type==="flow"?43:sw+8)).attr("y",legY+4.5)
    .style("font-size","13px").attr("fill","#222").text(it.label);
  if(it.type==="flow"){
    tx.append("tspan").attr("dy",-5).style("font-size","9px").text("3");
    tx.append("tspan").attr("dy",5).text("/s]");
  }
});
</script></body></html>
